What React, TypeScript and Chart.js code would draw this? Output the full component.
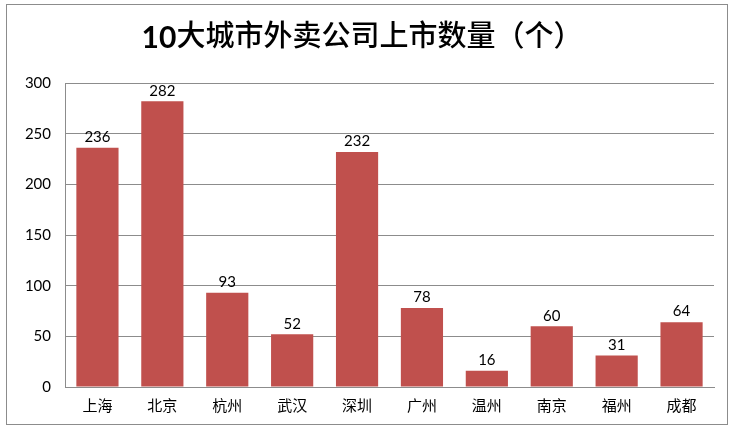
import React, { useEffect, useRef } from "react";
import { Chart, registerables } from "chart.js";

Chart.register(...registerables);

const titleNum = "10";
const titleRest = "大城市外卖公司上市数量（个）";
const categories = ["上海", "北京", "杭州", "武汉", "深圳", "广州", "温州", "南京", "福州", "成都"];
const values = [236, 282, 93, 52, 232, 78, 16, 60, 31, 64];
const yMin = 0;
const yMax = 300;
const yStep = 50;

const FONT = "Lato, 'Noto Sans CJK SC', 'Noto Sans', sans-serif";

const decorPlugin = {
  id: "decor",
  beforeDraw(chart: any) {
    const ctx = chart.ctx;
    ctx.save();
    ctx.fillStyle = "#ffffff";
    ctx.fillRect(0, 0, chart.width, chart.height);
    ctx.strokeStyle = "#8c8c8c";
    ctx.lineWidth = 1;
    ctx.strokeRect(6.5, 4.5, 721, 420);
    ctx.fillStyle = "#000";
    ctx.textBaseline = "middle";
    ctx.textAlign = "left";
    const fNum = "bold 30px " + FONT;
    const fRest = "500 29px " + FONT;
    ctx.font = fNum;
    const w1 = ctx.measureText(titleNum).width;
    ctx.font = fRest;
    const w2 = ctx.measureText(titleRest).width;
    const x0 = 362 - (w1 + w2) / 2;
    ctx.font = fNum;
    ctx.fillText(titleNum, x0, 38);
    ctx.font = fRest;
    ctx.fillText(titleRest, x0 + w1, 37);
    ctx.restore();
  },
  afterDatasetsDraw(chart: any) {
    const ctx = chart.ctx;
    const meta = chart.getDatasetMeta(0);
    ctx.save();
    ctx.fillStyle = "#000";
    ctx.font = "15px " + FONT;
    ctx.textAlign = "center";
    ctx.textBaseline = "bottom";
    meta.data.forEach((bar: any, i: number) => {
      ctx.fillText(String(values[i]), bar.x, bar.y - 3);
    });
    ctx.restore();
  },
};

export default function App() {
  const ref = useRef<HTMLCanvasElement>(null);
  useEffect(() => {
    if (!ref.current) return;
    const chart = new Chart(ref.current, {
      type: "bar",
      data: {
        labels: categories,
        datasets: [
          {
            data: values,
            backgroundColor: "#C0504D",
            barPercentage: 0.65,
            categoryPercentage: 1,
          },
        ],
      },
      options: {
        animation: false,
        responsive: false,
        maintainAspectRatio: false,
        layout: { padding: { top: 83, right: 18, left: 0, bottom: 0 } },
        plugins: { legend: { display: false }, tooltip: { enabled: false }, title: { display: false } },
        scales: {
          x: {
            grid: { display: false, drawTicks: false },
            border: { display: true, color: "#8c8c8c" },
            ticks: { color: "#000", font: { family: FONT, size: 15 }, padding: 10 },
            afterFit: (s: any) => {
              s.height = 44;
            },
          },
          y: {
            min: yMin,
            max: yMax,
            ticks: { stepSize: yStep, color: "#000", font: { family: FONT, size: 15 }, padding: 14 },
            grid: { color: "#8c8c8c", drawTicks: false },
            border: { display: true, color: "#8c8c8c" },
            afterFit: (s: any) => {
              s.width = 65;
            },
          },
        },
      },
      plugins: [decorPlugin],
    });
    return () => chart.destroy();
  }, []);
  return (
    <div style={{ position: "absolute", left: 0, top: 0, width: 732, height: 431 }}>
      <canvas ref={ref} width={732} height={431} style={{ width: 732, height: 431 }} />
    </div>
  );
}
